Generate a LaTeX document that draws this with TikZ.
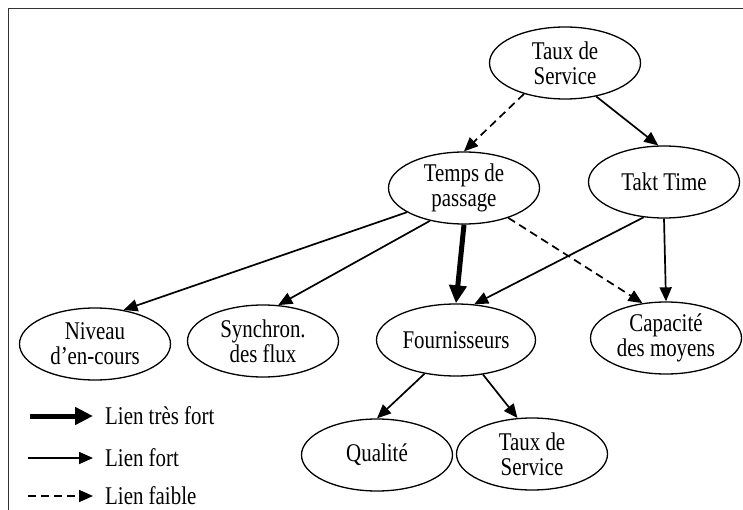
\documentclass[tikz,border=0pt]{standalone}
\usepackage{fontspec}
\setmainfont{Liberation Serif}[FakeStretch=0.82]
\usetikzlibrary{shapes.geometric,arrows.meta}
\tikzset{bulle/.style={ellipse,draw,line width=1.3pt,minimum width=151pt,minimum height=72pt,
    inner sep=0pt,align=center,font=\fontsize{25.5}{25}\selectfont}}

\begin{document}
\begin{tikzpicture}[x=1pt,y=-1pt,
        fort/.style={-{Triangle[length=14pt,width=12pt]},line width=1.7pt},
        faible/.style={fort,dash pattern=on 8pt off 5pt},
        tresfort/.style={-{Triangle[length=18pt,width=17pt]},line width=5pt},
        legende/.style={anchor=west,inner ysep=0pt,inner xsep=12pt,font=\fontsize{25.5}{25}\selectfont}]
    \useasboundingbox (0,0) rectangle (743,510);
    \draw[line width=1pt,black!80] (8,510) -- (8,9) -- (743,9);

    \node[bulle] (tds) at (565,63) {Taux de\\Service};
    \node[bulle] (tps) at (464,188) {Temps de\\passage};
    \node[bulle] (takt) at (664,182) {Takt Time};
    \node[bulle] (niv) at (95,344) {Niveau\\d’en-cours};
    \node[bulle] (syn) at (263,341) {Synchron.\\des flux};
    \node[bulle,minimum width=159pt] (four) at (456,340) {Fournisseurs};
    \node[bulle] (cap) at (666,338) {Capacité\\des moyens};
    \node[bulle] (qual) at (377,455) {Qualité};
    \node[bulle] (tds2) at (532,454) {Taux de\\Service};

    \draw[faible] (tds.217) -- (tps.north);
    \draw[fort] (tds.313) -- (takt.99);
    \draw[fort] (tps.203) -- (niv.50);
    \draw[fort] (tps.224) -- (syn.67);
    \draw[tresfort] (tps.south) -- (four.north);
    \draw[faible] (tps.326) -- (cap.124);
    \draw[fort] (takt.240) -- (four.63);
    \draw[fort] (takt.south) -- (cap.north);
    \draw[fort] (four.227) -- (qual.north);
    \draw[fort] (four.308) -- (tds2.112);

    % legende
    \coordinate (a1) at (30,416);
    \coordinate (a2) at (28,458);
    \coordinate (a3) at (28,496);
    \node[legende] (l1) at (93,416) {Lien très fort};
    \node[legende] (l2) at (93,458) {Lien fort};
    \node[legende] (l3) at (93,496) {Lien faible};
    \draw[tresfort] (a1) -- (l1.west);
    \draw[fort] (a2) -- (l2.west);
    \draw[faible] (a3) -- (l3.west);
\end{tikzpicture}
\end{document}
